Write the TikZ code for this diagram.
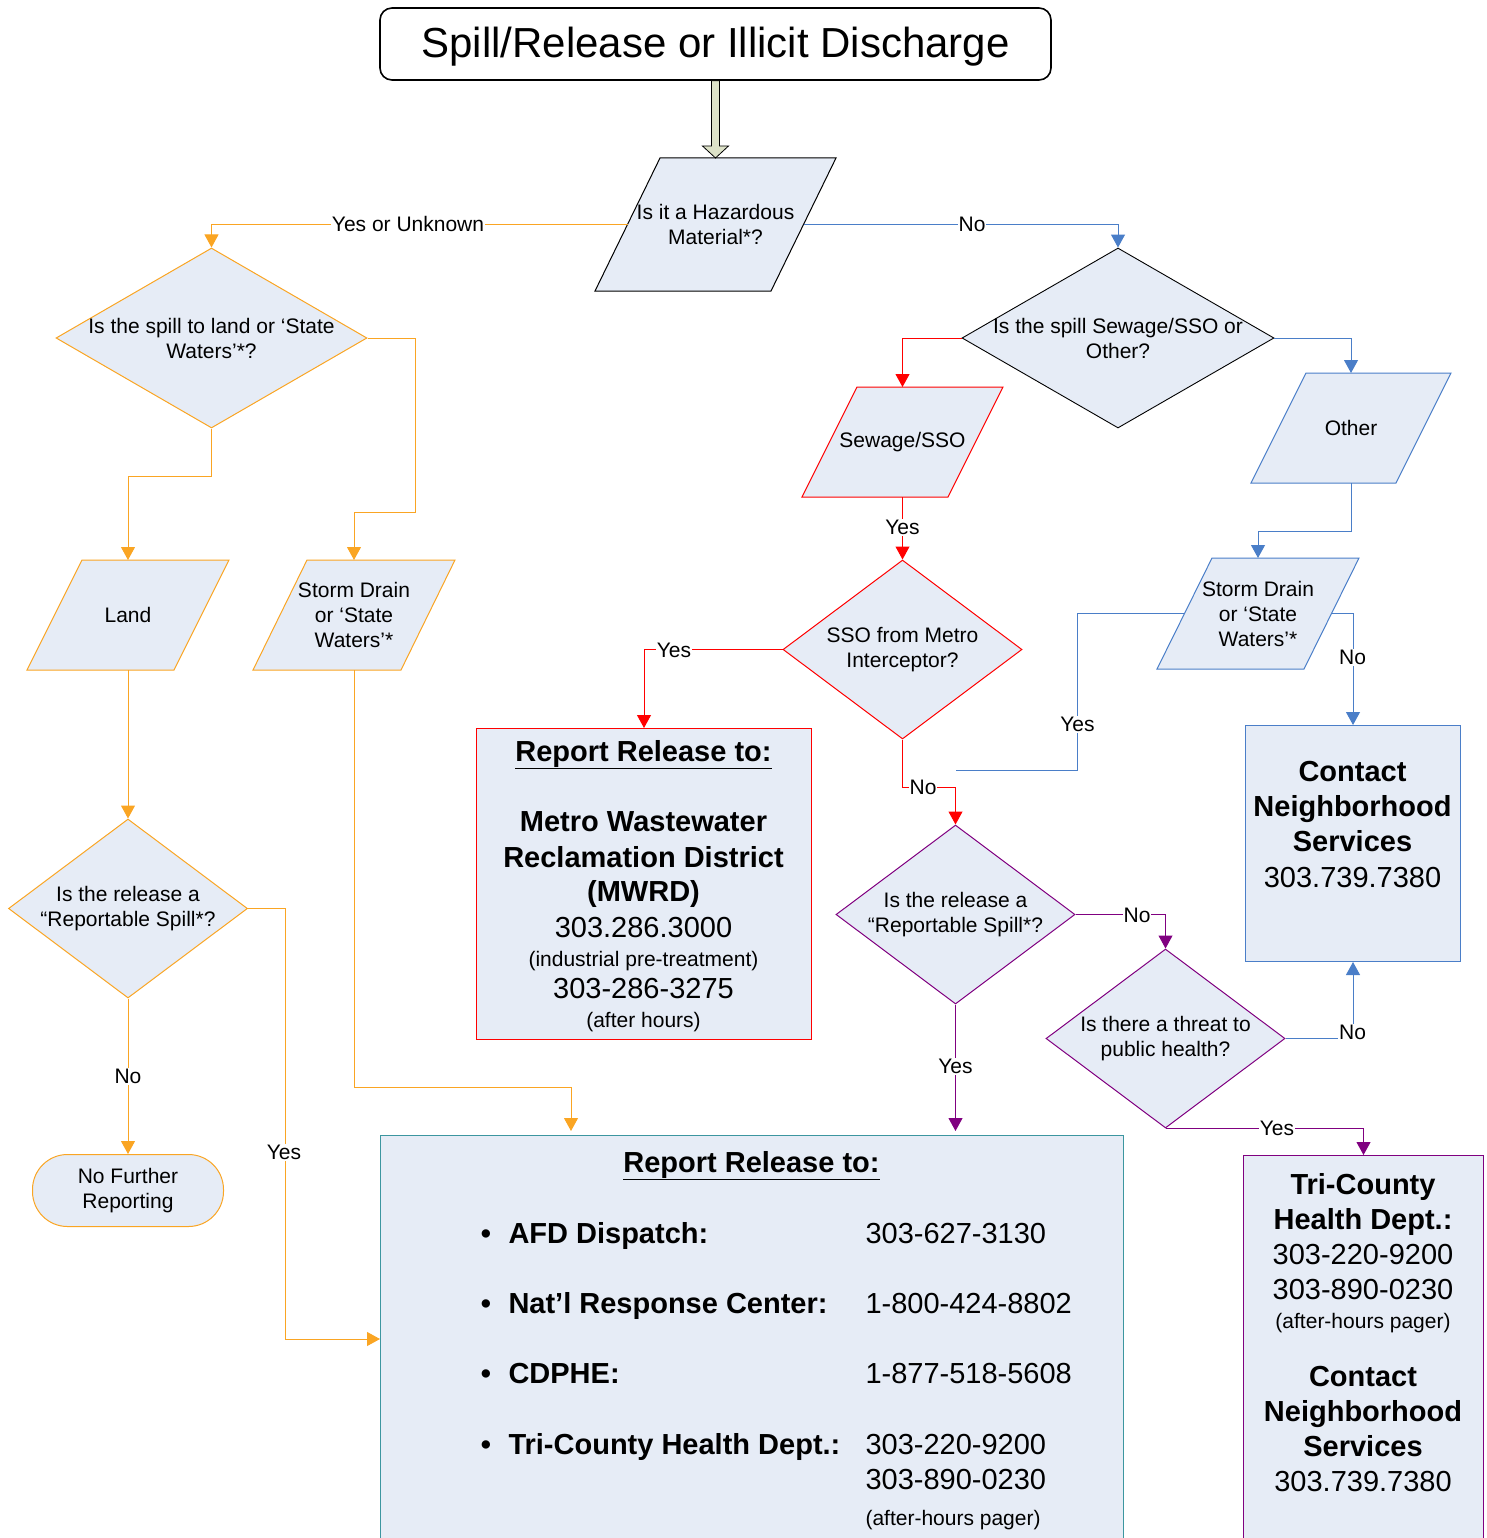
\documentclass[tikz,border=0pt]{standalone}
\usepackage{fontspec}
\setmainfont{Liberation Sans}
\usetikzlibrary{shapes.geometric,arrows.meta,calc}
\definecolor{boxfill}{RGB}{230,236,246}
\definecolor{oc}{RGB}{250,165,35}
\definecolor{bc}{RGB}{74,126,200}
\definecolor{rc}{RGB}{255,0,0}
\definecolor{pc}{RGB}{128,0,128}
\definecolor{tealc}{RGB}{60,150,160}
\definecolor{olivec}{RGB}{221,226,200}
\newcommand\smf{\fontsize{21}{25}\selectfont}
\newcommand\bgf{\fontsize{29}{35}\selectfont}
\newcommand\pgram[7]{%
  \filldraw[#7, fill=boxfill] ({#2-#4+#6},{#3-#5}) -- ({#2+#4+#6},{#3-#5}) -- ({#2+#4-#6},{#3+#5}) -- ({#2-#4-#6},{#3+#5}) -- cycle;
  \coordinate (#1-n) at ({#2},{#3-#5});
  \coordinate (#1-s) at ({#2},{#3+#5});
  \coordinate (#1-w) at ({#2-#4},{#3});
  \coordinate (#1-e) at ({#2+#4},{#3});
}
\newcommand\tline[5]{\node[anchor=base, inner sep=0pt, font=#4] (#1) at (#2,#3) {#5};}
\newcommand\tlinew[5]{\node[anchor=base west, inner sep=0pt, font=#4] (#1) at (#2,#3) {#5};}
\tikzset{
  dia/.style={diamond, draw=#1, fill=boxfill, inner sep=0pt, minimum width=239pt, minimum height=179pt},
  box/.style={rectangle, draw=#1, fill=boxfill, inner sep=0pt, anchor=north west},
  txt/.style={align=center, font=\smf, inner sep=0pt},
  lab/.style={fill=white, inner sep=1pt, font=\smf, text height=15pt, text depth=0pt},
  con/.style={-{Triangle[width=14pt,length=13pt]}},
}
\begin{document}
\begin{tikzpicture}[x=1pt,y=-1pt,line width=1pt]
\useasboundingbox (0,0) rectangle (1486,1538);
\clip (0,0) rectangle (1486,1538);

% title
\node[draw=black, line width=1.6pt, rounded corners=12pt, fill=white, minimum width=671pt, minimum height=72pt, inner sep=0pt] (title) at (715.5,44) {};
\tline{titletxt}{715.5}{58}{\fontsize{42}{50}\selectfont}{Spill/Release or Illicit Discharge}

% hazardous
\pgram{hz}{715.5}{224.5}{88}{66.5}{32.5}{draw=black}
\node[txt] (hzt) at (715.5,224.5) {Is it a Hazardous\\Material*?};
\filldraw[fill=olivec, draw=black, line width=0.8pt] ($(title.south)+(-4,0)$) -- ($(hz-n)+(-4,-12)$) -- ($(hz-n)+(-13,-12)$) -- (hz-n) -- ($(hz-n)+(13,-12)$) -- ($(hz-n)+(4,-12)$) -- ($(title.south)+(4,0)$) -- cycle;

% diamonds
\node[dia=oc, minimum width=311pt, minimum height=180pt] (d1) at (211.5,338) {};
\node[txt] (d1t) at (211.5,338) {Is the spill to land or ‘State\\Waters’*?};
\node[dia=black, line width=0.9pt, minimum width=312pt, minimum height=180pt] (d2) at (1118,338) {};
\node[txt] (d2t) at (1118,338) {Is the spill Sewage/SSO or\\Other?};
\node[dia=rc] (d3) at (902.5,649.5) {};
\node[txt] (d3t) at (902.5,649.5) {SSO from Metro\\Interceptor?};
\node[dia=oc] (d4) at (128,908.5) {};
\node[txt] (d4t) at (128,908.5) {Is the release a\\“Reportable Spill*?};
\node[dia=pc] (d5) at (955.5,914.5) {};
\node[txt] (d5t) at (955.5,914.5) {Is the release a\\“Reportable Spill*?};
\node[dia=pc] (d6) at (1165.5,1038.5) {};
\node[txt] (d6t) at (1165.5,1038.5) {Is there a threat to\\public health?};

% parallelograms
\pgram{ld}{128}{615}{73.5}{55}{27.5}{draw=oc}
\node[txt] (ldt) at (128,615) {Land};
\pgram{sl}{354}{615}{74}{55}{27}{draw=oc}
\node[txt] (slt) at (354,615) {Storm Drain\\or ‘State\\Waters’*};
\pgram{sw}{902.5}{442}{73}{55}{27.5}{draw=rc}
\node[txt] (swt) at (902.5,442) {Sewage/SSO};
\pgram{ot}{1351}{428}{72.5}{55}{27.5}{draw=bc}
\node[txt] (ott) at (1351,428) {Other};
\pgram{sr}{1258}{613.5}{73.5}{55.5}{27.5}{draw=bc}
\node[txt] (srt) at (1258,613.5) {Storm Drain\\or ‘State\\Waters’*};

% terminal
\node[draw=oc, fill=boxfill, rounded corners=35pt, minimum width=191pt, minimum height=72pt, inner sep=0pt] (nfr) at (128,1190.5) {};
\node[txt] (nfrt) at (128,1190.5) {No Further\\Reporting};

% boxes
\node[box=rc, minimum width=335pt, minimum height=311pt] (mw) at (476,728) {};
\node[box=bc, minimum width=215pt, minimum height=236pt] (cn) at (1245,725) {};
\node[box=pc, minimum width=240pt, minimum height=420pt] (tc) at (1243,1155) {};
\node[box=tealc, minimum width=743pt, minimum height=420pt] (bb) at (380,1135) {};

\coordinate (bbin1) at ($(bb.north west)+(191,0)$);
\coordinate (bbin2) at ($(bb.north west)+(575.5,0)$);
\coordinate (bbw) at ($(bb.north west)+(0,204)$);
\coordinate (jn) at ($(d5.north)+(0,-54)$);

% orange connectors
\draw[oc,con] (hz-w) -| (d1.north);
\draw[oc,con] (d1.south) -- ++(0,48) -| (ld-n);
\draw[oc,con] (d1.east) -- ++(48,0) -- ++(0,174) -| (sl-n);
\draw[oc,con] (ld-s) -- (d4.north);
\draw[oc,con] (d4.south) -- (nfr.north);
\draw[oc,con] (d4.east) -- ++(37,0) |- (bbw);
\draw[oc,con] (sl-s) -- ++(0,417) -| ($(bbin1)+(0,-4)$);
% blue connectors
\draw[bc,con] (hz-e) -| (d2.north);
\draw[bc,con] (d2.east) -| (ot-n);
\draw[bc,con] (ot-s) -- ++(0,48) -| (sr-n);
\draw[bc] (sr-w) -- ++(-107,0) |- (jn);
\draw[bc,con] (sr-e) -| (cn.north);
\draw[bc,con] (d6.east) -| (cn.south);
% red connectors
\draw[rc,con] (d2.west) -| (sw-n);
\draw[rc,con] (sw-s) -- (d3.north);
\draw[rc,con] (d3.west) -| (mw.north);
\draw[rc,con] (d3.south) -- ++(0,48) -| (d5.north);
% purple connectors
\draw[pc,con] (d5.east) -| (d6.north);
\draw[pc,con] (d5.south) -- ($(bbin2)+(0,-4)$);
\draw[pc,con] (d6.south) -| (tc.north);

% labels
\node[lab] (l1) at (408,224.5) {Yes or Unknown};
\node[lab] (l2) at (972,224.5) {No};
\node[lab] (l3) at (902.5,527) {Yes};
\node[lab] (l4) at (674,649.5) {Yes};
\node[lab] (l5) at (923,787) {No};
\node[lab] (l6) at (1077.5,724) {Yes};
\node[lab] (l7) at (1352.5,657) {No};
\node[lab] (l8) at (1352.5,1032) {No};
\node[lab] (l9) at (1137,914.5) {No};
\node[lab] (l10) at (955.5,1066) {Yes};
\node[lab] (l11) at (1277,1128) {Yes};
\node[lab] (l12) at (128,1076) {No};
\node[lab] (l13) at (284,1152) {Yes};

% MWRD box text
\tline{mw1}{643.5}{761}{\bgf\bfseries}{\underline{Report Release to:}}
\tline{mw2}{643.5}{831}{\bgf\bfseries}{Metro Wastewater}
\tline{mw3}{643.5}{867}{\bgf\bfseries}{Reclamation District}
\tline{mw4}{643.5}{901}{\bgf\bfseries}{(MWRD)}
\tline{mw5}{643.5}{937}{\bgf}{303.286.3000}
\tline{mw6}{643.5}{966}{\smf}{(industrial pre-treatment)}
\tline{mw7}{643.5}{998}{\bgf}{303-286-3275}
\tline{mw8}{643.5}{1027}{\smf}{(after hours)}

% Contact box text
\tline{cn1}{1352.5}{781}{\bgf\bfseries}{Contact}
\tline{cn2}{1352.5}{816}{\bgf\bfseries}{Neighborhood}
\tline{cn3}{1352.5}{851}{\bgf\bfseries}{Services}
\tline{cn4}{1352.5}{887}{\bgf}{303.739.7380}

% Tri-County box text
\tline{tc1}{1363}{1194}{\bgf\bfseries}{Tri-County}
\tline{tc2}{1363}{1229}{\bgf\bfseries}{Health Dept.:}
\tline{tc3}{1363}{1264}{\bgf}{303-220-9200}
\tline{tc4}{1363}{1299}{\bgf}{303-890-0230}
\tline{tc5}{1363}{1328}{\smf}{(after-hours pager)}
\tline{tc6}{1363}{1386}{\bgf\bfseries}{Contact}
\tline{tc7}{1363}{1421}{\bgf\bfseries}{Neighborhood}
\tline{tc8}{1363}{1456}{\bgf\bfseries}{Services}
\tline{tc9}{1363}{1491}{\bgf}{303.739.7380}

% big box text
\tline{bb0}{751.5}{1172}{\bgf\bfseries}{\underline{Report Release to:}}
\tline{bu1}{486}{1243}{\bgf\bfseries}{•}
\tline{bu2}{486}{1313}{\bgf\bfseries}{•}
\tline{bu3}{486}{1383}{\bgf\bfseries}{•}
\tline{bu4}{486}{1454}{\bgf\bfseries}{•}
\tlinew{bl1}{508}{1243}{\bgf\bfseries}{AFD Dispatch:}
\tlinew{bl2}{508}{1313}{\bgf\bfseries}{Nat’l Response Center:}
\tlinew{bl3}{508}{1383}{\bgf\bfseries}{CDPHE:}
\tlinew{bl4}{508}{1454}{\bgf\bfseries}{Tri-County Health Dept.:}
\tlinew{bn1}{865}{1243}{\bgf}{303-627-3130}
\tlinew{bn2}{865}{1313}{\bgf}{1-800-424-8802}
\tlinew{bn3}{865}{1383}{\bgf}{1-877-518-5608}
\tlinew{bn4}{865}{1454}{\bgf}{303-220-9200}
\tlinew{bn5}{865}{1489}{\bgf}{303-890-0230}
\tlinew{bn6}{865}{1525}{\smf}{(after-hours pager)}
\end{tikzpicture}
\end{document}
